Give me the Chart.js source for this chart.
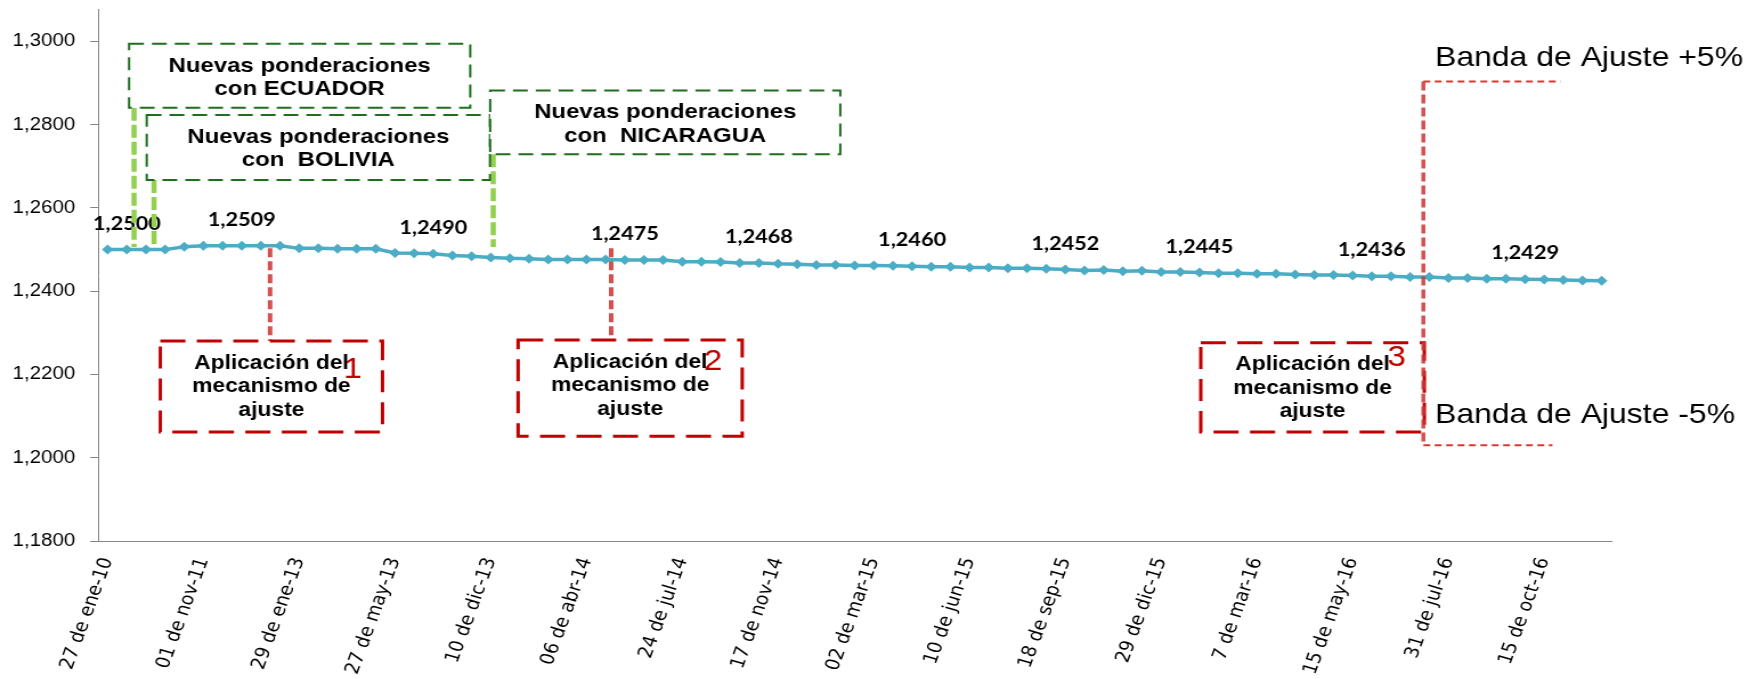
<!DOCTYPE html>
<html>
<head>
<meta charset="utf-8">
<script src="https://cdn.jsdelivr.net/npm/chart.js@4.4.0/dist/chart.umd.min.js"></script>
<style>
  html, body { margin: 0; padding: 0; background: #fff; overflow: hidden; }
  /* the original picture is stretched sideways, so the chart is drawn narrower and stretched */
  #wrap { width: 1540px; height: 679px; transform: scaleX(1.1403); transform-origin: 0 0; }
</style>
</head>
<body>
<div id="wrap"><canvas id="tipoCambio" width="1540" height="679"></canvas></div>
<script>
// Dates shown on the x axis (one every 5 points)
var fechas = ["27 de ene-10", "01 de nov-11", "29 de ene-13", "27 de may-13", "10 de dic-13",
    "06 de abr-14", "24 de jul-14", "17 de nov-14", "02 de mar-15", "10 de jun-15",
    "18 de sep-15", "29 de dic-15", "7 de mar-16", "15 de may-16", "31 de jul-16", "15 de oct-16"];

// Value of every point of the line
var valores = [1.2500, 1.2500, 1.2500, 1.2500, 1.2507, 1.2509, 1.2509, 1.2509, 1.2509, 1.2509,
    1.2503, 1.2503, 1.2502, 1.2502, 1.2502, 1.2492, 1.2491, 1.2490, 1.2486, 1.2484,
    1.2481, 1.2479, 1.2478, 1.2476, 1.2476, 1.2476, 1.2476, 1.2475, 1.2475, 1.2475,
    1.2471, 1.2471, 1.2470, 1.2468, 1.2468, 1.2466, 1.2465, 1.2463, 1.2463, 1.2462,
    1.2462, 1.2461, 1.2460, 1.2459, 1.2459, 1.2457, 1.2457, 1.2455, 1.2455, 1.2454,
    1.2452, 1.2450, 1.2451, 1.2448, 1.2449, 1.2446, 1.2446, 1.2445, 1.2443, 1.2443,
    1.2442, 1.2442, 1.2440, 1.2439, 1.2439, 1.2438, 1.2436, 1.2436, 1.2434, 1.2434,
    1.2432, 1.2432, 1.2430, 1.2430, 1.2429, 1.2428, 1.2427, 1.2426, 1.2425];

// Points that carry a value label
var puntosConEtiqueta = [1, 7, 17, 27, 34, 42, 50, 57, 66, 74];

// Y axis tick values
var marcasY = [1.18, 1.20, 1.22, 1.24, 1.26, 1.28, 1.30];

// Category labels: a date every 5 points, blank otherwise
var categorias = valores.map(function (v, i) {
    return i % 5 === 0 && fechas[i / 5] ? fechas[i / 5] : "";
});

// Green notes (x in point index, y in axis value)
var notasVerdes = [
    { x0: 1.12, x1: 18.93, arriba: 1.29946, abajo: 1.28407, guia: 1.38, texto: ["Nuevas ponderaciones", "con ECUADOR"] },
    { x0: 2.04, x1: 19.96, arriba: 1.28231, abajo: 1.26675, guia: 2.42, texto: ["Nuevas ponderaciones", "con  BOLIVIA"] },
    { x0: 19.97, x1: 38.25, arriba: 1.28823, abajo: 1.27293, guia: 20.13, texto: ["Nuevas ponderaciones", "con  NICARAGUA"] }
];

// Red notes
var notasRojas = [
    { x0: 2.75, x1: 14.35, arriba: 1.22803, abajo: 1.20621, guia: 8.48, num: "1", numX: 12.8, numY: 1.22105 },
    { x0: 21.43, x1: 33.13, arriba: 1.22827, abajo: 1.20518, guia: 26.29, num: "2", numX: 31.6, numY: 1.22298 },
    { x0: 57.07, x1: 68.74, arriba: 1.22762, abajo: 1.20621, guia: null, num: "3", numX: 67.3, numY: 1.22394 }
];
var textoNota = ["Aplicación del", "mecanismo de", "ajuste"];

// Adjustment band
var banda = { x: 68.69, arriba: 1.29039, abajo: 1.20302, finArriba: 75.85, finAbajo: 75.43, textoX: 69.3,
    textoArriba: 1.29585, textoAbajo: 1.21023 };

// Draws the value labels, guides and notes on top of the line
var notas = {
    id: "notas",
    afterDatasetsDraw: function (chart) {
        var ctx = chart.ctx;
        var sx = chart.scales.x;
        var sy = chart.scales.y;
        var px = function (i) { return sx.getPixelForValue(i); };
        var py = function (v) { return sy.getPixelForValue(v); };
        ctx.save();

        // value labels (the guides pass over them)
        ctx.fillStyle = "#000";
        ctx.font = "bold 19px Lato";
        ctx.textAlign = "center";
        ctx.textBaseline = "middle";
        puntosConEtiqueta.forEach(function (i) {
            ctx.fillText(valores[i].toFixed(4).replace(".", ","), px(i), py(valores[i]) - 26);
        });

        // light green guides
        ctx.lineWidth = 4.5;
        ctx.strokeStyle = "#92d050";
        ctx.setLineDash([13, 4]);
        notasVerdes.forEach(function (n) {
            ctx.beginPath();
            ctx.moveTo(px(n.guia), py(n.abajo));
            ctx.lineTo(px(n.guia), py(1.2506));
            ctx.stroke();
        });

        // red guides
        ctx.lineWidth = 4;
        ctx.strokeStyle = "rgba(204, 51, 51, 0.85)";
        ctx.setLineDash([9, 4]);
        notasRojas.forEach(function (n) {
            if (n.guia === null) return;
            ctx.beginPath();
            ctx.moveTo(px(n.guia), py(1.2503));
            ctx.lineTo(px(n.guia), py(n.arriba));
            ctx.stroke();
        });

        // green boxes
        notasVerdes.forEach(function (n) {
            var l = px(n.x0), r = px(n.x1), t = py(n.arriba), b = py(n.abajo);
            ctx.fillStyle = "#fff";
            ctx.fillRect(l, t, r - l, b - t);
            ctx.setLineDash([13, 7]);
            ctx.lineWidth = 2;
            ctx.strokeStyle = "#1e6e1e";
            ctx.strokeRect(l, t, r - l, b - t);
            ctx.fillStyle = "#000";
            ctx.font = "bold 21px 'Liberation Sans'";
            ctx.textAlign = "center";
            n.texto.forEach(function (s, k) {
                ctx.fillText(s, (l + r) / 2, t + 22 + k * 23.5);
            });
        });

        // red boxes
        notasRojas.forEach(function (n) {
            var l = px(n.x0), r = px(n.x1), t = py(n.arriba), b = py(n.abajo);
            ctx.fillStyle = "#fff";
            ctx.fillRect(l, t, r - l, b - t);
            ctx.setLineDash([22, 10]);
            ctx.lineWidth = 3;
            ctx.strokeStyle = "#c00000";
            ctx.strokeRect(l, t, r - l, b - t);
            ctx.fillStyle = "#000";
            ctx.font = "bold 20px 'Liberation Sans'";
            ctx.textAlign = "center";
            textoNota.forEach(function (s, k) {
                ctx.fillText(s, (l + r) / 2, t + 22 + k * 23.5);
            });
            ctx.fillStyle = "#c00000";
            ctx.font = "29px 'Liberation Sans'";
            ctx.fillText(n.num, px(n.numX), py(n.numY));
        });

        // adjustment band
        ctx.strokeStyle = "rgba(204, 51, 51, 0.85)";
        ctx.lineWidth = 3.5;
        ctx.setLineDash([9, 4]);
        ctx.beginPath();
        ctx.moveTo(px(banda.x), py(banda.arriba));
        ctx.lineTo(px(banda.x), py(banda.abajo));
        ctx.stroke();
        ctx.strokeStyle = "#e03333";
        ctx.lineWidth = 2;
        ctx.setLineDash([6, 4]);
        ctx.beginPath();
        ctx.moveTo(px(banda.x), py(banda.arriba));
        ctx.lineTo(px(banda.finArriba), py(banda.arriba));
        ctx.moveTo(px(banda.x), py(banda.abajo));
        ctx.lineTo(px(banda.finAbajo), py(banda.abajo));
        ctx.stroke();
        ctx.fillStyle = "#000";
        ctx.font = "28px 'Liberation Sans'";
        ctx.textAlign = "left";
        ctx.fillText("Banda de Ajuste +5%", px(banda.textoX), py(banda.textoArriba));
        ctx.fillText("Banda de Ajuste -5%", px(banda.textoX), py(banda.textoAbajo));
        ctx.restore();
    }
};

new Chart("tipoCambio", {
    type: "line",
    data: {
        labels: categorias,
        datasets: [{
            data: valores,
            borderColor: "#4bacc6",
            backgroundColor: "#4bacc6",
            borderWidth: 3.5,
            pointStyle: "rectRot",
            pointRadius: 5,
            pointBorderWidth: 0,
            tension: 0,
            fill: false
        }]
    },
    options: {
        responsive: false,
        animation: false,
        devicePixelRatio: 1,
        layout: { padding: { top: 9, right: 127, left: 0, bottom: 0 } },
        plugins: { legend: { display: false }, tooltip: { enabled: false } },
        scales: {
            x: {
                offset: true,
                grid: { display: false, drawTicks: false },
                border: { color: "#868686", width: 1 },
                ticks: {
                    autoSkip: false,
                    maxRotation: 72,
                    minRotation: 72,
                    padding: 14,
                    color: "#000",
                    font: { family: "DejaVu Sans", size: 17.5 }
                },
                afterFit: function (s) { s.height = 138; s.paddingLeft = 0; s.paddingRight = 0; }
            },
            y: {
                min: 1.18,
                max: 1.3078,
                afterBuildTicks: function (s) { s.ticks = marcasY.map(function (v) { return { value: v }; }); },
                grid: { drawOnChartArea: false, tickLength: 7, tickColor: "#868686" },
                border: { color: "#868686", width: 1 },
                ticks: {
                    padding: 13,
                    color: "#000",
                    font: { family: "Liberation Sans", size: 18 },
                    callback: function (v) { return Number(v).toFixed(4).replace(".", ","); }
                },
                afterFit: function (s) { s.width = 86; s.paddingTop = 0; s.paddingBottom = 0; }
            }
        }
    },
    plugins: [notas]
});
</script>
</body>
</html>
